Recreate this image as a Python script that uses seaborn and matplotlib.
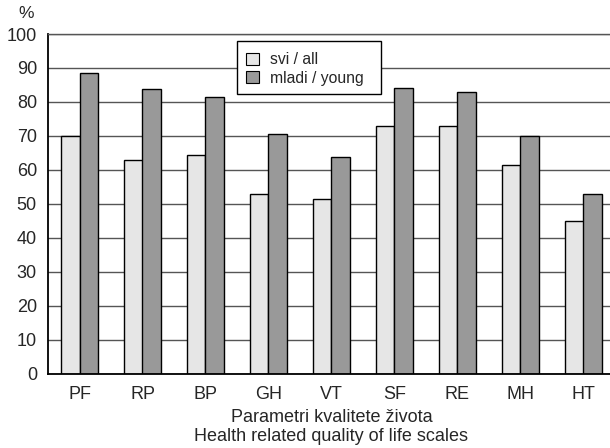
import numpy as np
import pandas as pd
import matplotlib
matplotlib.use("Agg")
import matplotlib.pyplot as plt
import seaborn as sns

# Data
scales = ['PF', 'RP', 'BP', 'GH', 'VT', 'SF', 'RE', 'MH', 'HT']
svi_all = [70, 62.8, 64.4, 53, 51.5, 73, 72.8, 61.5, 45]
mladi_young = [88.5, 83.7, 81.5, 70.6, 63.8, 84, 82.8, 69.9, 52.9]
groups = ['svi / all', 'mladi / young']
colors = ['#e6e6e6', '#999999']

df = pd.DataFrame({
    'scale': scales * 2,
    'value': svi_all + mladi_young,
    'group': [groups[0]] * len(scales) + [groups[1]] * len(scales),
})

sns.set_style("white")
plt.rcParams['font.family'] = ['Liberation Sans', 'DejaVu Sans']

fig = plt.figure(figsize=(6.1, 4.48), dpi=100)
ax = fig.add_axes([48 / 610, 74.5 / 448, 567 / 610, 339.5 / 448])

sns.barplot(data=df, x='scale', y='value', hue='group', order=scales,
            hue_order=groups, palette=colors, width=0.6, gap=0,
            edgecolor='black', linewidth=1, saturation=1, ax=ax, legend=False)

ax.set_ylim(0, 100)
ax.set_xlim(-0.5, len(scales) - 0.5)
ax.set_yticks(np.arange(0, 101, 10))
ax.yaxis.grid(True, color='#555555', linewidth=1)
ax.set_axisbelow(True)

ax.tick_params(axis='y', length=0, labelsize=13, pad=8)
ax.tick_params(axis='x', which='major', length=0, labelsize=13, pad=9)
ax.set_xticks(np.arange(0.5, len(scales) - 1, 1), minor=True)
ax.tick_params(axis='x', which='minor', direction='in', length=6,
               width=1, color='black')

for s in ['left', 'bottom']:
    ax.spines[s].set_color('black')
    ax.spines[s].set_linewidth(1.3)
ax.spines['top'].set_color('#555555')
ax.spines['top'].set_linewidth(1)
ax.spines['right'].set_visible(False)

ax.set_xlabel('Parametri kvalitete života\nHealth related quality of life scales',
              fontsize=13, labelpad=4.5, linespacing=1.15)
ax.set_ylabel('')

fig.text(26 / 610, 1 - 13 / 448, '%', fontsize=12.5, ha='center', va='center')

# legend box (square corners, wide right padding like the original)
frame = plt.Rectangle((237 / 610, 1 - 94 / 448), 144 / 610, 53.3 / 448,
                      transform=fig.transFigure, facecolor='white',
                      edgecolor='black', linewidth=1, zorder=4, clip_on=False)
ax.add_patch(frame)

handles = [plt.Rectangle((0, 0), 1, 1, facecolor=c, edgecolor='black', linewidth=0.8)
           for c in colors]
leg = ax.legend(handles, groups, loc='upper left',
                bbox_to_anchor=(246 / 610, 1 - 52 / 448),
                bbox_transform=fig.transFigure, fontsize=11.3, frameon=False,
                handlelength=0.85, handleheight=0.8, handletextpad=0.7,
                borderpad=0, labelspacing=0.25, borderaxespad=0)
leg.set_zorder(5)

fig.savefig('out.png', dpi=100)
